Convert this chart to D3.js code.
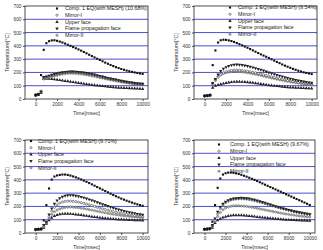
<!DOCTYPE html>
<html>
<head>
<meta charset="utf-8">
<style>
    body { margin: 0; background: #fff; }
    svg { display: block; font-family: "Liberation Sans", Arial, sans-serif; }
    .grid line { stroke: #4f4fd0; stroke-width: 1px; }
    .axis path, .axis line { stroke: #222; stroke-width: 0.8px; }
    .axis text { fill: #333; font-size: 4.8px; }
    .title { fill: #333; font-size: 5.3px; }
    .legend text { fill: #222; font-size: 5.3px; }
</style>
</head>
<body>
<svg></svg>
<script src="https://d3js.org/d3.v7.min.js"></script>
<script>
    var vWidth = 323;
    var vHeight = 250;

    // time axis (msec)
    var times = [0, 250, 500, 750, 1000, 1250, 1500, 1750, 2000, 2250, 2500, 2750, 3000, 3250, 3500, 3750, 4000,
        4250, 4500, 4750, 5000, 5250, 5500, 5750, 6000, 6250, 6500, 6750, 7000, 7250, 7500, 7750, 8000,
        8250, 8500, 8750, 9000, 9250, 9500, 9750, 10000];
    var seriesNames = ['Mirror-I', 'Upper face', 'Flame propagation face', 'Mirror-II'];
    var compLabels = ['Comp. 1 EQ(with MESH) (10.68%)', 'Comp. 1 EQ(with MESH) (9.54%)',
        'Comp. 1 EQ(with MESH) (9.71%)', 'Comp. 1 EQ(with MESH) (9.67%)'];
    var yTicks = [0, 100, 200, 300, 400, 500, 600, 700];
    var xTicks = [0, 2000, 4000, 6000, 8000, 10000];
    var gridValues = [100, 200, 300, 400, 500, 600];

    // panel 1 (10.68%)
    var comp1 = [30, 35, 180, 370, 420, 435, 441, 442, 438, 432, 425, 417, 408, 400, 391, 382, 373, 364, 354, 344, 333,
        323, 313, 303, 294, 284, 274, 265, 256, 248, 240, 233, 226, 220, 214, 209, 204, 200, 196, 192, 189];
    var mirrorI1 = [30, 36, 50, 160, 165, 171, 177, 183, 188, 192, 196, 199, 201, 202, 202, 201, 199, 197, 194, 191, 187,
        183, 179, 174, 169, 164, 159, 155, 150, 146, 142, 138, 134, 130, 127, 124, 121, 118, 115, 113, 111];
    var upper1 = [26, 32, 45, 150, 152, 152, 150, 148, 145, 142, 139, 136, 133, 130, 127, 124, 121, 118, 115, 112, 109,
        106, 103, 101, 99, 97, 95, 93, 91, 89, 87, 85, 84, 83, 82, 81, 80, 79, 78, 77, 76];
    var flame1 = [32, 38, 55, 165, 170, 176, 182, 188, 193, 197, 201, 204, 206, 207, 207, 206, 204, 202, 199, 196, 192,
        188, 184, 179, 174, 169, 164, 159, 154, 150, 146, 142, 138, 134, 130, 127, 124, 121, 118, 116, 114];
    var mirrorII1 = [28, 34, 60, 150, 155, 161, 167, 173, 178, 183, 187, 190, 192, 193, 193, 192, 190, 188, 185, 182, 178,
        174, 170, 166, 161, 157, 152, 148, 144, 140, 136, 132, 128, 125, 122, 119, 116, 113, 111, 109, 107];

    // panel 2 (9.54%)
    var comp2 = [22, 25, 28, 255, 365, 425, 442, 446, 445, 441, 436, 429, 421, 413, 404, 395, 386, 376, 366, 356, 346,
        336, 327, 318, 309, 299, 289, 279, 270, 260, 251, 243, 235, 227, 220, 213, 207, 201, 196, 192, 188];
    var mirrorI2 = [24, 26, 30, 110, 140, 165, 183, 196, 205, 211, 215, 217, 218, 217, 215, 212, 209, 205, 201, 197, 192,
        187, 182, 177, 172, 167, 162, 157, 152, 148, 144, 140, 136, 132, 128, 125, 122, 119, 116, 114, 112];
    var upper2 = [22, 24, 28, 85, 100, 106, 111, 116, 120, 124, 127, 129, 130, 130, 129, 128, 126, 124, 122, 119, 116,
        113, 110, 107, 104, 102, 99, 97, 95, 93, 91, 89, 87, 86, 85, 84, 83, 82, 81, 80, 79];
    var flame2 = [24, 26, 30, 120, 150, 185, 210, 228, 240, 249, 255, 258, 259, 258, 256, 252, 248, 243, 238, 232, 226,
        220, 214, 207, 200, 194, 187, 181, 175, 169, 163, 158, 153, 148, 143, 139, 135, 131, 128, 125, 122];
    var mirrorII2 = [23, 25, 29, 115, 145, 168, 182, 192, 198, 202, 205, 207, 207, 206, 204, 201, 198, 194, 190, 186, 181,
        177, 172, 167, 163, 158, 154, 149, 145, 141, 137, 133, 129, 126, 123, 120, 117, 114, 112, 110, 108];

    // panel 3 (9.71%)
    var comp3 = [28, 30, 32, 95, 210, 335, 402, 425, 433, 437, 440, 440, 437, 432, 426, 419, 411, 403, 394, 385, 376,
        366, 356, 346, 336, 326, 316, 306, 296, 286, 277, 268, 259, 251, 243, 236, 229, 222, 216, 210, 205];
    var mirrorI3 = [26, 28, 30, 50, 80, 125, 165, 193, 212, 225, 233, 238, 240, 240, 239, 236, 232, 228, 223, 218, 212,
        206, 200, 194, 188, 182, 177, 171, 166, 161, 156, 152, 148, 144, 140, 137, 134, 131, 128, 126, 124];
    var upper3 = [24, 26, 28, 40, 70, 95, 115, 128, 136, 141, 144, 145, 145, 144, 142, 140, 138, 135, 132, 129, 126,
        123, 120, 118, 115, 113, 111, 109, 107, 105, 103, 102, 101, 100, 99, 98, 97, 96, 95, 95, 94];
    var flame3 = [26, 28, 30, 60, 85, 140, 185, 220, 245, 262, 273, 280, 284, 285, 284, 281, 277, 272, 266, 260, 253,
        246, 239, 231, 224, 217, 210, 203, 196, 189, 183, 177, 171, 166, 161, 156, 152, 148, 144, 141, 138];
    var mirrorII3 = [25, 27, 29, 45, 75, 110, 140, 160, 173, 182, 188, 192, 194, 195, 194, 192, 190, 187, 184, 180, 176,
        172, 168, 164, 160, 156, 152, 148, 144, 141, 138, 135, 132, 129, 127, 125, 123, 121, 119, 117, 115];

    // panel 4 (9.67%)
    var comp4 = [30, 32, 35, 85, 210, 340, 410, 440, 450, 455, 455, 453, 449, 444, 438, 431, 424, 416, 408, 400, 391,
        382, 373, 364, 355, 346, 337, 328, 319, 310, 301, 292, 283, 274, 265, 256, 247, 238, 229, 220, 211];
    var mirrorI4 = [28, 30, 32, 55, 95, 145, 185, 210, 228, 240, 248, 253, 256, 258, 258, 257, 255, 252, 248, 244, 239,
        234, 228, 222, 216, 210, 204, 198, 193, 187, 182, 177, 172, 167, 162, 158, 154, 150, 146, 143, 140];
    var upper4 = [26, 28, 30, 40, 75, 95, 108, 117, 123, 128, 131, 133, 134, 134, 133, 132, 130, 128, 126, 124, 121,
        119, 117, 115, 113, 111, 109, 107, 105, 103, 101, 100, 99, 98, 97, 96, 95, 94, 94, 93, 93];
    var flame4 = [28, 30, 32, 60, 110, 160, 195, 220, 236, 247, 254, 259, 262, 264, 265, 264, 262, 259, 255, 250, 245,
        239, 233, 227, 221, 214, 208, 202, 196, 190, 184, 179, 174, 169, 164, 160, 156, 152, 148, 145, 142];
    var mirrorII4 = [27, 29, 31, 50, 85, 125, 155, 175, 188, 196, 201, 204, 205, 205, 204, 202, 200, 197, 194, 190, 186,
        182, 178, 174, 170, 166, 162, 158, 154, 150, 146, 143, 140, 137, 134, 131, 128, 126, 124, 122, 120];

    var panelData = [
        [comp1, mirrorI1, upper1, flame1, mirrorII1],
        [comp2, mirrorI2, upper2, flame2, mirrorII2],
        [comp3, mirrorI3, upper3, flame3, mirrorII3],
        [comp4, mirrorI4, upper4, flame4, mirrorII4]
    ];

    // layout of each panel (pixels)
    var panelLayout = [
        {left: 25, top: 6, w: 123, h: 93, legX: 57, legTextX: 65, legY: 8.5, yLabX: 7},
        {left: 194, top: 6, w: 123, h: 93, legX: 230, legTextX: 238, legY: 7.5, yLabX: 176},
        {left: 25, top: 140, w: 123, h: 93, legX: 31, legTextX: 38, legY: 141, yLabX: 7},
        {left: 194, top: 140, w: 121, h: 93, legX: 219, legTextX: 230, legY: 144.5, yLabX: 176}
    ];

    var svg = d3.select('svg').attr('width', vWidth).attr('height', vHeight);

    // marker drawing, one per series
    function drawMarker(sel, k) {
        if (k === 0) {
            sel.append('path').attr('d', d3.symbol().type(d3.symbolSquare).size(4.5)()).attr('fill', '#111');
        } else if (k === 1) {
            sel.append('circle').attr('r', 1.1).attr('fill', '#fff').attr('stroke', '#333').attr('stroke-width', 0.55);
        } else if (k === 2) {
            sel.append('path').attr('d', d3.symbol().type(d3.symbolTriangle).size(5)()).attr('fill', '#222');
        } else if (k === 3) {
            sel.append('path').attr('d', d3.symbol().type(d3.symbolTriangle).size(5)())
                .attr('transform', 'rotate(180)').attr('fill', '#222');
        } else {
            sel.append('circle').attr('r', 1.1).attr('fill', '#fff').attr('stroke', '#444').attr('stroke-width', 0.5);
            sel.append('line').attr('x1', -1.1).attr('x2', 1.1).attr('stroke', '#444').attr('stroke-width', 0.45);
        }
    }

    panelLayout.forEach(function (L, p) {
        var x = d3.scaleLinear().domain([-1000, 10500]).range([L.left, L.left + L.w]);
        var y = d3.scaleLinear().domain([0, 700]).range([L.top + L.h, L.top]);
        var g = svg.append('g');

        // blue horizontal grid
        g.append('g').attr('class', 'grid').selectAll('line').data(gridValues).enter().append('line')
            .attr('x1', L.left).attr('x2', L.left + L.w)
            .attr('y1', function (d) { return y(d); }).attr('y2', function (d) { return y(d); });

        // frame
        g.append('rect').attr('x', L.left).attr('y', L.top).attr('width', L.w).attr('height', L.h)
            .attr('fill', 'none').attr('stroke', '#222').attr('stroke-width', 0.8);

        var xAxis = d3.axisBottom(x).tickValues(xTicks).tickSize(2).tickPadding(2).tickFormat(d3.format('d'));
        var yAxis = d3.axisLeft(y).tickValues(yTicks).tickSize(2).tickPadding(1.5);
        g.append('g').attr('class', 'axis').attr('transform', 'translate(0,' + (L.top + L.h) + ')').call(xAxis)
            .select('.domain').remove();
        g.append('g').attr('class', 'axis').attr('transform', 'translate(' + L.left + ',0)').call(yAxis)
            .select('.domain').remove();

        g.append('text').attr('class', 'title').attr('text-anchor', 'middle')
            .attr('x', L.left + L.w * 0.5).attr('y', L.top + L.h + 15.5).text('Time[msec]');
        g.append('text').attr('class', 'title').attr('text-anchor', 'middle')
            .attr('transform', 'translate(' + L.yLabX + ',' + (L.top + L.h * 0.5) + ') rotate(-90)')
            .attr('dy', '0.35em').text('Temperature[\u00b0C]');

        // series, drawn bottom-most first so Comp. sits on top
        [2, 4, 1, 3, 0].forEach(function (k) {
            var vals = panelData[p][k];
            var pts = g.append('g').selectAll('g').data(vals).enter().append('g')
                .attr('transform', function (d, i) { return 'translate(' + x(times[i]) + ',' + y(d) + ')'; });
            drawMarker(pts, k);
        });

        // legend
        var names = [compLabels[p]].concat(seriesNames);
        var leg = g.append('g').attr('class', 'legend');
        names.forEach(function (name, k) {
            var row = leg.append('g').attr('transform', 'translate(0,' + (L.legY + k * 6.7) + ')');
            drawMarker(row.append('g').attr('transform', 'translate(' + L.legX + ',0)'), k);
            row.append('text').attr('x', L.legTextX).attr('dy', '0.35em').text(name);
        });
    });
</script>
</body>
</html>
